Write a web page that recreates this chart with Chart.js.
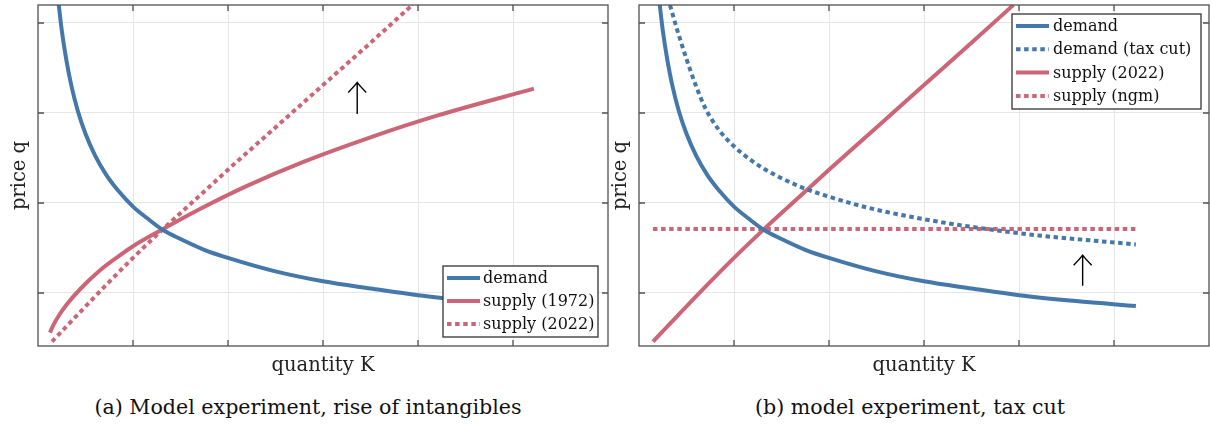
<!DOCTYPE html>
<html><head><meta charset="utf-8">
<script src="https://cdn.jsdelivr.net/npm/chart.js@4.4.1/dist/chart.umd.min.js"></script>
<style>
html,body{margin:0;padding:0;background:#fff;}
body{width:1210px;height:425px;position:relative;overflow:hidden;}
#wa{position:absolute;left:0;top:0;width:610px;height:385px;}
#wb{position:absolute;left:610px;top:0;width:600px;height:385px;}
.cap{position:absolute;top:392px;height:30px;line-height:30px;font-family:"DejaVu Serif";font-size:20.6px;color:#111;text-align:center;white-space:nowrap;}
</style></head><body>
<div id="wa"><canvas id="ca" width="610" height="385"></canvas></div>
<div id="wb"><canvas id="cb" width="600" height="385"></canvas></div>
<div class="cap" style="left:8px;width:600px">(a) Model experiment, rise of intangibles</div>
<div class="cap" style="left:610px;width:600px">(b) model experiment, tax cut</div>
<script>
// ---- data ----
const xTicks = [1, 2, 3, 4, 5];
const yTicks = [1, 2, 3, 4];

const demandK = [0.21, 0.25, 0.30, 0.35, 0.42, 0.50, 0.60, 0.72, 0.85, 1.0, 1.15, 1.316, 1.5, 1.75, 2.0, 2.5, 3.0, 3.5, 4.0, 4.6, 5.23];
const demandQ = [4.28, 3.92, 3.58, 3.31, 3.02, 2.77, 2.53, 2.31, 2.13, 1.96, 1.83, 1.70, 1.60, 1.48, 1.39, 1.24, 1.13, 1.05, 0.975, 0.91, 0.855];

const supply1972K = [0.126, 0.16, 0.22, 0.3, 0.45, 0.65, 0.85, 1.0, 1.316, 1.7, 2.2, 2.8, 3.5, 4.2, 5.22];
const supply1972Q = [0.56, 0.64, 0.75, 0.87, 1.05, 1.25, 1.41, 1.52, 1.71, 1.93, 2.19, 2.46, 2.73, 2.97, 3.27];

const supply2022K = [0.147, 0.4, 0.7, 1.0, 1.316, 1.7, 2.0, 2.5, 3.0, 3.5, 3.94];
const supply2022Q = [0.46, 0.74, 1.07, 1.39, 1.71, 2.08, 2.37, 2.84, 3.31, 3.78, 4.2];

const demandTaxK = [0.326, 0.4, 0.5, 0.6, 0.7, 0.85, 1.0, 1.2, 1.4, 1.7, 2.0, 2.4, 3.0, 3.6, 4.2, 4.75, 5.23];
const demandTaxQ = [4.2, 3.93, 3.6, 3.3, 3.05, 2.80, 2.63, 2.46, 2.33, 2.18, 2.07, 1.95, 1.82, 1.72, 1.64, 1.585, 1.54];

const supplyNgmK = [0.147, 5.23];
const supplyNgmQ = [1.71, 1.71];

const arrowAK = [3.36], arrowAFrom = [2.99], arrowATo = [3.34];
const arrowBK = [4.67], arrowBFrom = [1.08], arrowBTo = [1.42];

// ---- styling ----
const BLUE = '#4477AA', RED = '#CC6677';
const DOT = [4.5, 3.6];
const pts = (ks, qs) => ks.map((k, i) => ({x: k, y: qs[i]}));

function line(label, ks, qs, color, dotted) {
  return {
    label, data: pts(ks, qs), borderColor: color, backgroundColor: color,
    borderWidth: 4, pointRadius: 0, fill: false, clip: 0,
    cubicInterpolationMode: 'monotone', borderCapStyle: 'butt',
    borderDash: dotted ? DOT : []
  };
}

const framePlugin = {
  id: 'frame',
  afterDatasetsDraw(chart) {
    const {ctx, chartArea: a, scales: {x, y}} = chart;
    ctx.save();
    ctx.strokeStyle = '#505050';
    ctx.lineWidth = 1.3;
    ctx.setLineDash([]);
    ctx.beginPath();
    x.ticks.forEach(t => {
      const p = x.getPixelForValue(t.value);
      ctx.moveTo(p, a.bottom); ctx.lineTo(p, a.bottom - 6);
      ctx.moveTo(p, a.top); ctx.lineTo(p, a.top + 6);
    });
    y.ticks.forEach(t => {
      const p = y.getPixelForValue(t.value);
      ctx.moveTo(a.left, p); ctx.lineTo(a.left + 6, p);
      ctx.moveTo(a.right, p); ctx.lineTo(a.right - 6, p);
    });
    ctx.stroke();
    ctx.strokeRect(a.left, a.top, a.right - a.left, a.bottom - a.top);
    ctx.restore();
  }
};

const arrowPlugin = {
  id: 'arrows',
  afterDatasetsDraw(chart, args, o) {
    const {ctx, scales: {x, y}} = chart;
    ctx.save();
    ctx.strokeStyle = '#000';
    ctx.lineWidth = 1.4;
    ctx.setLineDash([]);
    (o.k || []).forEach((k, i) => {
      const px = x.getPixelForValue(k);
      const y0 = y.getPixelForValue(o.from[i]);
      const y1 = y.getPixelForValue(o.to[i]);
      ctx.beginPath();
      ctx.moveTo(px, y0); ctx.lineTo(px, y1);
      ctx.moveTo(px - 9, y1 + 10);
      ctx.quadraticCurveTo(px - 3, y1 + 4, px, y1);
      ctx.quadraticCurveTo(px + 3, y1 + 4, px + 9, y1 + 10);
      ctx.stroke();
    });
    ctx.restore();
  }
};

const boxLegend = {
  id: 'boxLegend',
  afterDraw(chart, args, o) {
    const ctx = chart.ctx;
    ctx.save();
    ctx.fillStyle = '#fff';
    ctx.fillRect(o.left, o.top, o.width, o.height);
    ctx.strokeStyle = '#333';
    ctx.lineWidth = 1.3;
    ctx.setLineDash([]);
    ctx.strokeRect(o.left, o.top, o.width, o.height);
    chart.data.datasets.forEach((ds, i) => {
      const yy = o.top + o.first + i * o.gap;
      ctx.beginPath();
      ctx.strokeStyle = ds.borderColor;
      ctx.lineWidth = 4;
      ctx.lineCap = 'butt';
      ctx.setLineDash(ds.borderDash || []);
      ctx.moveTo(o.left + o.sw0, yy);
      ctx.lineTo(o.left + o.sw1, yy);
      ctx.stroke();
      ctx.setLineDash([]);
      ctx.fillStyle = '#111';
      ctx.font = '16px "DejaVu Serif"';
      ctx.textBaseline = 'middle';
      ctx.fillText(ds.label, o.left + o.tx, yy + 1);
    });
    ctx.restore();
  }
};

function scales(yWidth, yTitlePad) {
  const titleFont = {family: 'DejaVu Serif', size: 19.5, lineHeight: 1};
  return {
    x: {
      type: 'linear', min: 0, max: 6,
      afterBuildTicks: s => { s.ticks = xTicks.map(v => ({value: v})); },
      afterFit: s => { s.height = 39; },
      ticks: {display: false},
      grid: {color: '#e6e6e6', lineWidth: 1, drawTicks: false},
      border: {display: false},
      title: {display: true, text: 'quantity K', font: titleFont, color: '#222', padding: {top: 0, bottom: 9.5}}
    },
    y: {
      type: 'linear', min: 0.411, max: 4.2,
      afterBuildTicks: s => { s.ticks = yTicks.map(v => ({value: v})); },
      afterFit: s => { s.width = yWidth; },
      ticks: {display: false},
      grid: {color: '#e6e6e6', lineWidth: 1, drawTicks: false},
      border: {display: false},
      title: {display: true, text: 'price q', font: titleFont, color: '#222', padding: {top: yTitlePad, bottom: 0}}
    }
  };
}

new Chart(document.getElementById('ca'), {
  type: 'line',
  data: {
    datasets: [
      line('demand', demandK, demandQ, BLUE, false),
      line('supply (1972)', supply1972K, supply1972Q, RED, false),
      line('supply (2022)', supply2022K, supply2022Q, RED, true)
    ]
  },
  options: {
    responsive: false, animation: false, devicePixelRatio: 1,
    layout: {padding: {left: 0, top: 5, right: 2, bottom: 0}},
    scales: scales(38, 10.5),
    plugins: {
      legend: {display: false}, tooltip: {enabled: false},
      arrows: {k: arrowAK, from: arrowAFrom, to: arrowATo},
      boxLegend: {left: 443, top: 266, width: 155, height: 71, first: 12, gap: 23, sw0: 4, sw1: 37, tx: 40}
    }
  },
  plugins: [framePlugin, arrowPlugin, boxLegend]
});

new Chart(document.getElementById('cb'), {
  type: 'line',
  data: {
    datasets: [
      line('demand', demandK, demandQ, BLUE, false),
      line('demand (tax cut)', demandTaxK, demandTaxQ, BLUE, true),
      line('supply (2022)', supply2022K, supply2022Q, RED, false),
      line('supply (ngm)', supplyNgmK, supplyNgmQ, RED, true)
    ]
  },
  options: {
    responsive: false, animation: false, devicePixelRatio: 1,
    layout: {padding: {left: 0, top: 5, right: 1, bottom: 0}},
    scales: scales(29, 1.5),
    plugins: {
      legend: {display: false}, tooltip: {enabled: false},
      arrows: {k: arrowBK, from: arrowBFrom, to: arrowBTo},
      boxLegend: {left: 402, top: 14, width: 189, height: 95, first: 12, gap: 23.3, sw0: 4, sw1: 37, tx: 41}
    }
  },
  plugins: [framePlugin, arrowPlugin, boxLegend]
});
</script>
</body></html>
